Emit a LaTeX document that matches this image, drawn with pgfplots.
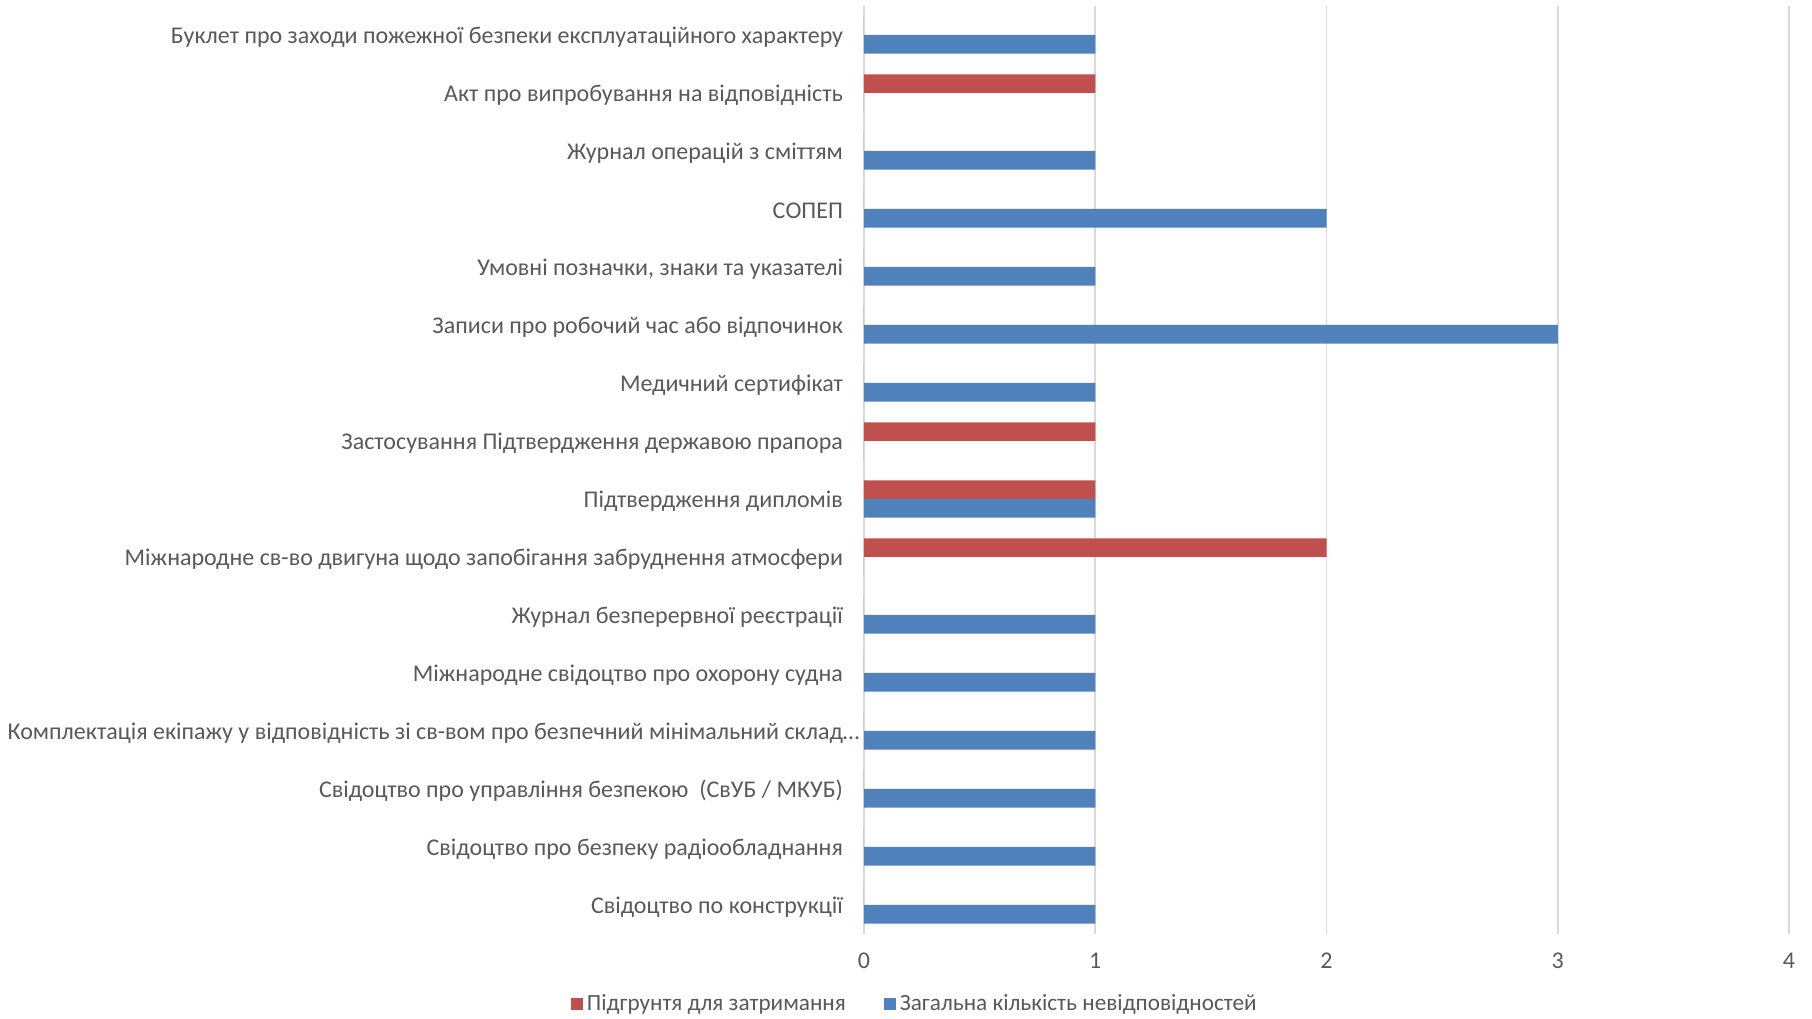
\documentclass[border=0pt]{standalone}
\usepackage{pgfplots}
\pgfplotsset{compat=1.18}
\usepackage{fontspec}
\setmainfont{Carlito}
\definecolor{cred}{HTML}{C0504D}
\definecolor{cblue}{HTML}{4F81BD}
\definecolor{cgrid}{HTML}{D9D9D9}
\definecolor{ctext}{HTML}{595959}
\begin{document}
\begin{tikzpicture}
\path[use as bounding box] (0,0) rectangle (906bp,509.5bp);
\begin{axis}[
  at={(432bp,42.5bp)}, anchor=south west,
  scale only axis, width=462.5bp, height=464bp,
  xbar, bar width=0.32,
  xmin=0, xmax=4, ymin=-0.5, ymax=15.5,
  xtick={0,1,2,3,4},
  ytick={0,...,15},
  yticklabels={
    Свідоцтво по конструкції,
    Свідоцтво про безпеку радіообладнання,
    Свідоцтво про управління безпекою\ \ (СвУБ / МКУБ),
    Комплектація екіпажу у відповідність зі св-вом про безпечний мінімальний склад\rlap{…},
    Міжнародне свідоцтво про охорону судна,
    Журнал безперервної реєстрації,
    Міжнародне св-во двигуна щодо запобігання забруднення атмосфери,
    Підтвердження дипломів,
    Застосування Підтвердження державою прапора,
    Медичний сертифікат,
    Записи про робочий час або відпочинок,
    Умовні позначки{,} знаки та указателі,
    СОПЕП,
    Журнал операцій з сміттям,
    Акт про випробування на відповідність,
    Буклет про заходи пожежної безпеки експлуатаційного характеру},
  axis line style={draw=none},
  major tick length=0pt,
  xmajorgrids, grid style={cgrid, line width=0.8bp},
  ymajorgrids=false,
  tick label style={font=\fontsize{12bp}{14bp}\selectfont, text=ctext},
  /pgf/number format/assume math mode=true,
  xticklabel style={yshift=-6bp},
  yticklabel style={xshift=-7bp, yshift=-1bp},
  legend style={at={(0.056,-0.0754)}, anchor=center, draw=none,
    font=\fontsize{11.6bp}{14bp}\selectfont, text=ctext,
    legend columns=2, /tikz/every even column/.append style={column sep=17bp}},
  legend image code/.code={\fill[#1,draw=none] (0bp,-3bp) rectangle (6bp,3bp);},
]
\addplot[fill=cred, draw=none, bar shift=0.16] coordinates {
 (0,0) (0,1) (0,2) (0,3) (0,4) (0,5) (2,6) (1,7) (1,8) (0,9) (0,10) (0,11) (0,12) (0,13) (1,14) (0,15)};
\addplot[fill=cblue, draw=none, bar shift=-0.16] coordinates {
 (1,0) (1,1) (1,2) (1,3) (1,4) (1,5) (0,6) (1,7) (0,8) (1,9) (3,10) (1,11) (2,12) (1,13) (0,14) (1,15)};
\legend{Підгрунтя для затримання, Загальна кількість невідповідностей}
\end{axis}
\end{tikzpicture}
\end{document}
